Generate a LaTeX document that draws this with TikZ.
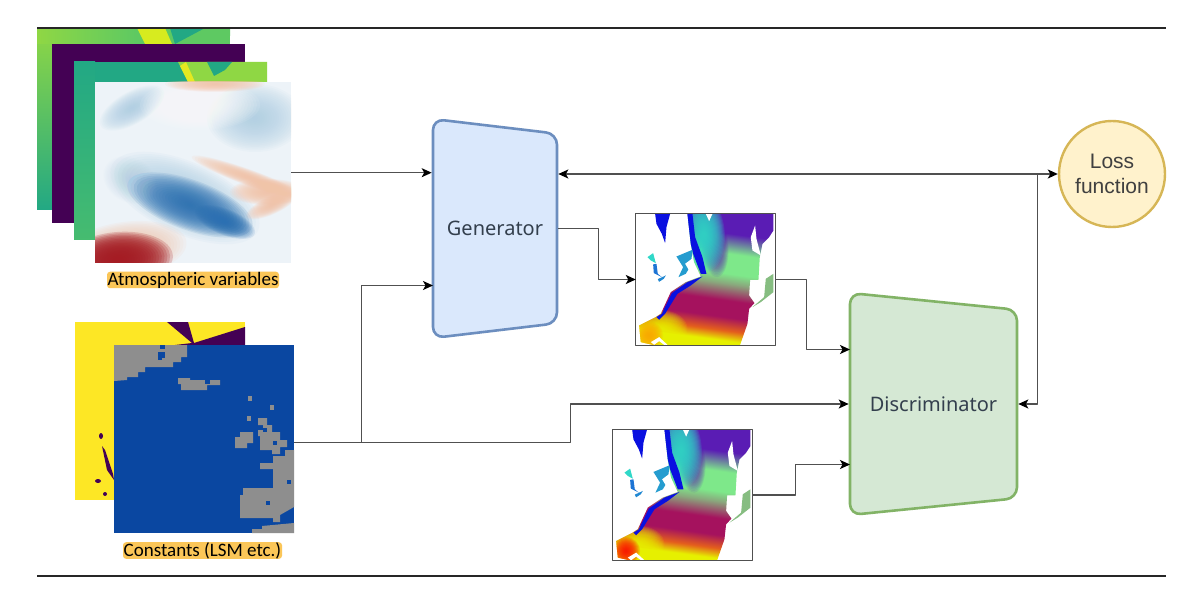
\documentclass[tikz,border=0pt]{standalone}
\usepackage{fontspec}
\setmainfont{Liberation Sans}
\newfontfamily\labelfont{Carlito}
\newfontfamily\blockfont{Noto Sans}
\usetikzlibrary{shapes.geometric, arrows.meta}

\definecolor{linegrey}{HTML}{505050}
\definecolor{genfill}{HTML}{DAE8FC}
\definecolor{gendraw}{HTML}{6C8EBF}
\definecolor{discfill}{HTML}{D5E8D4}
\definecolor{discdraw}{HTML}{82B366}
\definecolor{lossfill}{HTML}{FFF2CC}
\definecolor{lossdraw}{HTML}{D6B656}
\definecolor{tagfill}{HTML}{FBC658}
\definecolor{blocktext}{HTML}{333F4D}
\definecolor{lsmblue}{HTML}{0A47A1}
\definecolor{lsmgrey}{HTML}{8E8E8E}
\definecolor{vpurple}{HTML}{440154}
\definecolor{vteal}{HTML}{22A884}
\definecolor{vgreen}{HTML}{5EC962}
\definecolor{vlime}{HTML}{8FD744}
\definecolor{vyellow}{HTML}{FDE725}
\definecolor{rbpale}{HTML}{EDF3F8}
\definecolor{rbsky}{HTML}{A9CCE3}
\definecolor{rbblue}{HTML}{2B70B2}
\definecolor{rbsalmon}{HTML}{F8C4A8}
\definecolor{rbred}{HTML}{A51C24}
\definecolor{seapurple}{HTML}{5A1CB4}
\definecolor{seagreen}{HTML}{7EE88A}
\definecolor{seacrimson}{HTML}{A5125E}
\definecolor{seayellow}{HTML}{E6F000}
\definecolor{seacyan}{HTML}{30D8C8}
\definecolor{seablue}{HTML}{0A10E0}

% sea surface colours, bottom to top (path box is 25bp..75bp)
\pgfdeclareverticalshading{sst}{100bp}{
  color(0bp)=(seayellow); color(33bp)=(seayellow); color(36bp)=(orange!70!seacrimson);
  color(40bp)=(seacrimson); color(45bp)=(seacrimson); color(50bp)=(seagreen!70!seacrimson);
  color(53bp)=(seagreen); color(59bp)=(seagreen); color(65bp)=(seapurple);
  color(100bp)=(seapurple)}

% blurred patch: stacked ellipses with low opacity
\newcommand{\softblob}[7]{%
  \foreach \s in {1,0.95,...,0.03}
    \fill[#6, fill opacity=#7/8, rotate around={#5:(#1,#2)}]
      (#1,#2) ellipse [x radius=\s*#3, y radius=\s*#4];}

% ocean map, typed in units of 1/3 px from the map's corner
\newcommand{\seamap}[2]{%
  \begin{scope}[shift={(#1.north west)}, x=0.3333pt, y=-0.3333pt]
    \clip (0,0) rectangle (417,393);
    \begin{scope}
      \clip (155,0) -- (413,0) -- (413,50) -- (400,70) -- (380,90) -- (372,130) -- (368,198)
        -- (343,198) -- (340,245) -- (356,268) -- (340,285) -- (335,330) -- (313,393)
        -- (50,393) -- (15,385) -- (10,335) -- (60,310) -- (75,300) -- (105,235)
        -- (150,205) -- (195,188) -- (175,145) -- (165,90) -- cycle;
      \shade[shading=sst, shading angle=-8] (-50,-50) rectangle (467,450);
      \softblob{238}{95}{40}{95}{4}{seapurple}{.8}
      \softblob{205}{60}{62}{115}{4}{seacyan}{1.2}
      \softblob{80}{345}{75}{55}{0}{seayellow}{.9}
      \softblob{40}{365}{42}{42}{0}{#2}{.95}
      \fill[seablue] (155,0) -- (170,0) -- (178,70) -- (200,130) -- (212,180) -- (195,180) -- (172,120) -- (160,70) -- cycle;
      \fill[seablue] (62,310) -- (78,300) -- (108,238) -- (155,205) -- (200,188) -- (165,215) -- (125,240) -- (88,300) -- (70,318) -- cycle;
    \end{scope}
    \fill[seablue] (58,0) -- (103,0) -- (92,40) -- (88,88) -- (78,60) -- (62,30) -- cycle;
    \fill[white] (210,0) -- (230,0) -- (220,22) -- cycle;
    \fill[white] (345,70) -- (358,35) -- (362,75) -- (375,125) -- (350,110) -- cycle;
    \fill[seacyan] (35,130) -- (52,118) -- (60,148) -- (45,140) -- cycle;
    \fill[seacyan!50!seablue] (52,152) -- (62,150) -- (66,180) -- (78,190) -- (54,178) -- cycle;
    \fill[seacyan!60!seablue] (66,196) -- (90,185) -- (84,195) -- (70,204) -- cycle;
    \fill[seacyan!70!seablue] (122,128) -- (170,108) -- (165,155) -- (150,180) -- (128,190) -- (142,160) -- cycle;
    \fill[white] (148,150) -- (168,135) -- (175,160) -- (160,170) -- cycle;
    \fill[seagreen!80!seacrimson] (350,280) -- (385,250) -- (390,195) -- (413,180) -- (413,235) -- (375,265) -- cycle;
    \fill[white] (45,385) -- (70,370) -- (95,393) -- (85,393) -- (70,382) -- (55,393) -- cycle;
  \end{scope}}

\begin{document}
\begin{tikzpicture}[x=1pt, y=-1pt, line join=round,
    rule/.style={draw=black!85, line width=1.4pt},
    layer/.style={rectangle, draw=none, inner sep=0pt, anchor=north west},
    mapbox/.style={rectangle, draw=none, fill=white, inner sep=0pt, minimum width=139pt, minimum height=131pt},
    frame/.style={draw=linegrey, line width=1.3pt},
    tag/.style={rectangle, rounded corners=3pt, fill=tagfill, inner sep=0pt, minimum height=16.5pt,
      font=\labelfont\fontsize{19}{19}\selectfont, text=black},
    block/.style={trapezium, shape border rotate=270, rounded corners=11pt, line width=2.6pt, inner sep=0pt,
      trapezium stretches body=true, font=\blockfont\fontsize{20}{20}\selectfont, text=blocktext},
    link/.style={draw=linegrey, line width=1.4pt},
    arr/.style={link, -{Stealth[length=10pt, width=9pt, inset=2.5pt, color=black]}},
    biarr/.style={link, {Stealth[length=10pt, width=9pt, inset=2.5pt, color=black]}-{Stealth[length=10pt, width=9pt, inset=2.5pt, color=black]}}]

\useasboundingbox (0,0) rectangle (1200,604);
\fill[white] (0,0) rectangle (1200,604);

% input stacks
\node[layer, fill=vgreen, minimum width=193pt, minimum height=182pt] (atmA) at (37,28) {};
\begin{scope}
  \clip (37,28) rectangle (230,210);
  \shade[top color=vlime, bottom color=vteal] (37,28) rectangle (52,210);
  \shade[left color=vlime, right color=vgreen] (37,28) rectangle (137,44);
  \fill[vyellow!85!green] (137,28) -- (165,28) -- (172,44) -- (145,44) -- cycle;
  \fill[vteal] (170,28) -- (205,28) -- (190,36) -- (175,44) -- cycle;
  \fill[vgreen] (205,28) -- (230,28) -- (230,36) -- (200,36) -- cycle;
\end{scope}
\node[layer, fill=vpurple, minimum width=193pt, minimum height=179pt] (atmB) at (52,44) {};
\node[layer, fill=vteal, minimum width=193pt, minimum height=178pt] (atmC) at (74,62) {};
\begin{scope}
  \clip (74,62) rectangle (267,240);
  \shade[top color=vteal, bottom color=vgreen!60!vteal] (74,62) rectangle (95,240);
  \fill[vlime] (178,62) -- (267,62) -- (267,82) -- (188,82) -- cycle;
  \fill[vyellow!90!green] (180,66) -- (186,62) -- (195,82) -- (188,82) -- cycle;
  \fill[vteal] (207,62) -- (232,62) -- (225,70) -- (214,76) -- cycle;
\end{scope}
\node[layer, fill=rbpale, minimum width=196pt, minimum height=181pt] (atm) at (95,82) {};
\begin{scope}
  \clip (95,82) rectangle (291,263);
  \softblob{255}{118}{48}{34}{0}{rbsky}{.55}
  \softblob{132}{108}{36}{16}{30}{rbsky}{.6}
  \softblob{200}{105}{60}{25}{0}{white}{.7}
  \softblob{185}{198}{80}{36}{-24}{rbsky}{.65}
  \softblob{190}{205}{66}{25}{-20}{rbblue}{.95}
  \softblob{225}{222}{32}{13}{-22}{rbblue}{.9}
  \softblob{130}{180}{28}{22}{-30}{rbsky}{.25}
  \softblob{250}{178}{62}{8}{-20}{rbsalmon}{.95}
  \softblob{268}{192}{38}{13}{0}{rbsalmon}{.95}
  \softblob{272}{205}{28}{9}{25}{rbsalmon}{.85}
  \softblob{215}{84}{50}{8}{0}{rbsalmon}{.8}
  \softblob{125}{250}{62}{28}{8}{rbsalmon}{.75}
  \softblob{118}{260}{55}{28}{5}{rbred}{1.6}
\end{scope}

\node[layer, fill=vyellow, minimum width=170pt, minimum height=178pt] (lsmA) at (75,322) {};
\fill[vpurple] (167,322) -- (188,322) -- (194,343) -- (245,327) -- (245,345) -- (175,345) -- (192,343) -- cycle;
\fill[vpurple] (102,446) -- (105,450) -- (113,474) -- (114,480) -- (107,470) -- cycle;
\fill[vpurple] (98,481) ellipse [x radius=3, y radius=2];
\fill[vpurple] (105,494) ellipse [x radius=2, y radius=2];
\fill[vpurple] (101,436) ellipse [x radius=2, y radius=3];
\node[layer, fill=lsmblue, minimum width=180pt, minimum height=188pt] (lsm) at (114,345) {};
\begin{scope}[lsmgrey]
  \fill (114,345) -- (187,345) -- (187,357) -- (181,357) -- (181,362) -- (173,362) -- (173,367) -- (145,367) -- (145,372) -- (138,372) -- (138,377) -- (127,377) -- (127,380) -- (114,381) -- cycle;
  \fill (178,378) -- (190,378) -- (190,380) -- (220,380) -- (220,385) -- (207,385) -- (207,390) -- (181,390) -- (181,384) -- (178,384) -- cycle;
  \fill (235,437) -- (240,437) -- (240,432) -- (253,432) -- (253,443) -- (247,443) -- (247,448) -- (235,448) -- cycle;
  \fill (258,418) -- (267,418) -- (267,425) -- (272,425) -- (272,432) -- (280,432) -- (280,440) -- (287,440) -- (287,447) -- (280,447) -- (280,454) -- (272,454) -- (272,450) -- (260,450) -- (260,436) -- (258,436) -- (258,430) -- (263,430) -- (263,425) -- (258,425) -- cycle;
  \fill (294,450) -- (285,450) -- (285,456) -- (273,456) -- (273,463) -- (260,463) -- (260,469) -- (273,469) -- (273,488) -- (243,488) -- (243,495) -- (240,495) -- (240,518) -- (273,518) -- (273,522) -- (280,522) -- (280,515) -- (294,507) -- cycle;
  \fill (252,533) -- (252,529) -- (262,529) -- (262,526) -- (294,523) -- (294,533) -- cycle;
  \fill (248,396) rectangle (252,401);
  \fill (270,405) rectangle (274,410);
  \fill (247,416) rectangle (251,421);
\end{scope}
\begin{scope}[lsmblue]
  \fill (158,352) rectangle (165,358);
  \fill (160,345) rectangle (165,349);
  \fill (158,358) rectangle (162,360);
  \fill (263,428) rectangle (267,432);
  \fill (273,441) rectangle (277,445);
  \fill (205,380) rectangle (210,384);
  \fill (266,501) rectangle (270,505);
  \fill (287,480) rectangle (291,484);
\end{scope}

\node[tag, minimum width=172pt] (atmtag) at (193,280) {Atmospheric variables};
\node[tag, minimum width=159pt] (lsmtag) at (202.5,550.5) {Constants (LSM etc.)};

% generated and real fields
\node[mapbox] (fake) at (705.5,279.5) {};
\seamap{fake}{orange!70!yellow}
\draw[frame] (fake.south west) rectangle (fake.north east);
\node[mapbox] (real) at (682.5,495) {};
\seamap{real}{red!90!orange}
\draw[frame] (real.south west) rectangle (real.north east);

% networks
\node[block, fill=genfill, draw=gendraw, trapezium left angle=81.3, trapezium right angle=81.3,
  minimum width=219pt, minimum height=124pt] (gen) at (495,228.5) {Generator};
\node[block, fill=discfill, draw=discdraw, trapezium left angle=82.5, trapezium right angle=82.5,
  minimum width=222pt, minimum height=167pt] (disc) at (933.5,404) {Discriminator};
\node[circle, fill=lossfill, draw=lossdraw, line width=2.4pt, minimum size=106pt, inner sep=0pt, align=center,
  font=\fontsize{21}{25}\selectfont, text=black!75] (loss) at (1112,174) {Loss\\function};

\draw[rule] (37,28) -- (1166,28);
\draw[rule] (37,576) -- (1166,576);

\coordinate (lsmout) at (294,442.5);
\coordinate (lsmfork) at (361.5,442.5);
\coordinate (lsmknee) at (570.5,442.5);
\coordinate (genlow) at (433,285.5);
\coordinate (discup) at (850,349.5);
\coordinate (disclow) at (850,464.5);
\coordinate (lossjoin) at (1037.5,174);

\path[arr] (atm.east) -- (atm.east -| gen.west);
\path[biarr] (loss.west -| gen.east) -- (loss.west);
\path[arr] (gen.east) -- ++(40,0) |- (fake.west);
\path[arr] (fake.east) -- ++(31.5,0) |- (discup);
\path[arr] (real.east) -- ++(43.5,0) |- (disclow);
\path[link] (lsmout) -- (lsmfork);
\path[arr] (lsmfork) |- (genlow);
\path[arr] (lsmfork) -- (lsmknee) |- (disc.west);
\path[arr] (lossjoin) |- (disc.east);
\end{tikzpicture}
\end{document}
